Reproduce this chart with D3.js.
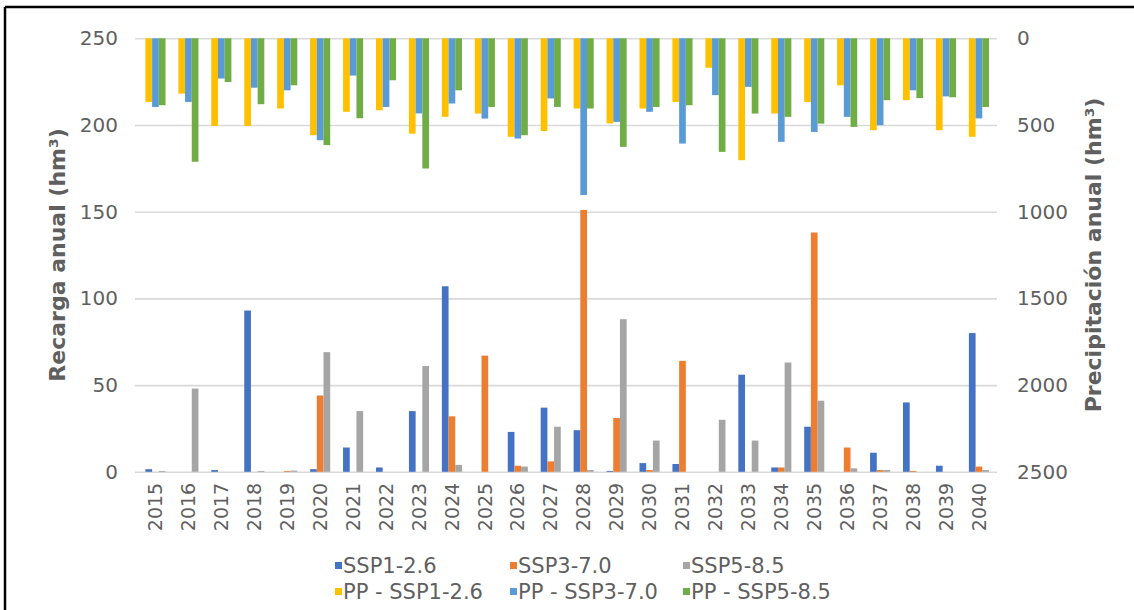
<!DOCTYPE html>
<html>
<head>
<meta charset="utf-8">
<script src="https://cdn.jsdelivr.net/npm/d3@7"></script>
<style>
  html, body { margin: 0; padding: 0; background: #ffffff; }
  svg { display: block; }
  text { font-family: "DejaVu Sans", Arial, sans-serif; fill: #5f5f5f; }
</style>
</head>
<body>
<svg id="chart" width="1134" height="610"></svg>
<script>
const years = ["2015","2016","2017","2018","2019","2020","2021","2022","2023","2024","2025","2026","2027",
               "2028","2029","2030","2031","2032","2033","2034","2035","2036","2037","2038","2039","2040"];

// Recarga anual (hm3) - primary axis
const ssp126 = [1.5,0,1,93,0,1.5,14,2.5,35,107,0,23,37,24,0.5,5,4.5,0,56,2.5,26,0,11,40,3.5,80];
const ssp370 = [0,0,0,0,0.5,44,0,0,0,32,67,3.5,6,151,31,1,64,0,0,2.5,138,14,1,0.5,0,3];
const ssp585 = [0.5,48,0,0.5,0.7,69,35,0,61,4,0,3,26,1,88,18,0,30,18,63,41,2,1,0,0,1];

// Precipitación anual (hm3) - secondary axis (reversed)
const ppSsp126 = [367,319,505,505,405,559,424,415,550,453,434,568,535,405,491,405,367,170,703,434,367,271,530,357,530,568];
const ppSsp370 = [396,367,232,285,300,588,215,396,433,376,463,578,347,904,482,424,607,328,280,597,540,453,501,300,335,462];
const ppSsp585 = [386,712,252,380,271,616,461,242,751,300,396,559,396,405,626,396,386,655,434,453,492,511,357,345,340,396];

const leftTicks = [0,50,100,150,200,250];
const rightTicks = [0,500,1000,1500,2000,2500];

const primaryNames = ["SSP1-2.6","SSP3-7.0","SSP5-8.5"];
const secondaryNames = ["PP - SSP1-2.6","PP - SSP3-7.0","PP - SSP5-8.5"];
const primaryColors = ["#4472C4","#ED7D31","#A5A5A5"];
const secondaryColors = ["#FFC000","#5B9BD5","#70AD47"];

const svg = d3.select("#chart");
svg.append("rect").attr("width",1134).attr("height",610).attr("fill","#fff");

// frame (only top and left visible in the crop)
svg.append("line").attr("x1",5).attr("x2",1134).attr("y1",7).attr("y2",7)
  .attr("stroke","#000").attr("stroke-width",2.5);
svg.append("line").attr("x1",5).attr("x2",5).attr("y1",7).attr("y2",610)
  .attr("stroke","#000").attr("stroke-width",2.5);

const gridLeft = 135, gridRight = 997;
const plotTop = 38.3, plotBottom = 471.8;

const x = d3.scaleBand().domain(years).range([139, 995.4]).paddingInner(0.39).paddingOuter(0.195);
const xs = d3.scaleBand().domain([0,1,2]).range([0, x.bandwidth()]);
const yL = d3.scaleLinear().domain([0,250]).range([plotBottom, plotTop]);
const yR = d3.scaleLinear().domain([0,2500]).range([plotTop, plotBottom]);

// gridlines
const grid = svg.append("g").attr("transform", `translate(${gridLeft},0)`)
  .call(d3.axisLeft(yL).tickValues(leftTicks).tickSize(-(gridRight-gridLeft)).tickFormat(""));
grid.select(".domain").remove();
grid.selectAll("line").attr("stroke","#d9d9d9").attr("stroke-width",1.6);

// primary bars
const primary = [ssp126, ssp370, ssp585];
primary.forEach((vals, si) => {
  svg.append("g").selectAll("rect").data(years).join("rect")
    .attr("x", d => x(d) + xs(si))
    .attr("width", xs.bandwidth())
    .attr("y", (d,i) => yL(vals[i]))
    .attr("height", (d,i) => yL(0) - yL(vals[i]))
    .attr("fill", primaryColors[si]);
});

// secondary bars (hanging from top)
const secondary = [ppSsp126, ppSsp370, ppSsp585];
secondary.forEach((vals, si) => {
  svg.append("g").selectAll("rect").data(years).join("rect")
    .attr("x", d => x(d) + xs(si))
    .attr("width", xs.bandwidth())
    .attr("y", yR(0))
    .attr("height", (d,i) => yR(vals[i]) - yR(0))
    .attr("fill", secondaryColors[si]);
});

// left axis labels
const la = svg.append("g").attr("transform","translate(118,0)")
  .call(d3.axisLeft(yL).tickValues(leftTicks).tickSize(0).tickPadding(0).tickFormat(d3.format("d")));
la.select(".domain").remove();
la.selectAll("text").style("font-size","20px").attr("fill","#5f5f5f");

// right axis labels
const ra = svg.append("g").attr("transform","translate(1017,0)")
  .call(d3.axisRight(yR).tickValues(rightTicks).tickSize(0).tickPadding(0).tickFormat(d3.format("d")));
ra.select(".domain").remove();
ra.selectAll("text").style("font-size","20px").attr("fill","#5f5f5f");

// x labels rotated
const xa = svg.append("g").attr("transform",`translate(0,${plotBottom})`)
  .call(d3.axisBottom(x).tickSize(0).tickPadding(0));
xa.select(".domain").remove();
xa.selectAll("text")
  .style("font-size","19px")
  .attr("fill","#5f5f5f")
  .attr("transform","rotate(-90)")
  .attr("text-anchor","end")
  .attr("dy","0.35em")
  .attr("x",-11)
  .attr("y",0);

// axis titles
svg.append("text").attr("transform","translate(57,255) rotate(-90)")
  .attr("text-anchor","middle").attr("dominant-baseline","central")
  .style("font-size","22px").style("font-weight","bold")
  .text("Recarga anual (hm³)");
svg.append("text").attr("transform","translate(1093,255) rotate(-90)")
  .attr("text-anchor","middle").attr("dominant-baseline","central")
  .style("font-size","22px").style("font-weight","bold")
  .text("Precipitación anual (hm³)");

// legend
const legCols = [335, 510, 683];
const legRows = [566, 592];
const legItems = [];
primaryNames.forEach((n,i)=>legItems.push({name:n,color:primaryColors[i],col:i,row:0}));
secondaryNames.forEach((n,i)=>legItems.push({name:n,color:secondaryColors[i],col:i,row:1}));
const lg = svg.append("g").selectAll("g").data(legItems).join("g")
  .attr("transform", d => `translate(${legCols[d.col]},${legRows[d.row]})`);
lg.append("rect").attr("x",0).attr("y",-4).attr("width",7).attr("height",7).attr("fill", d=>d.color);
lg.append("text").attr("x",8).attr("dominant-baseline","central")
  .style("font-size","21px").text(d=>d.name);
</script>
</body>
</html>
